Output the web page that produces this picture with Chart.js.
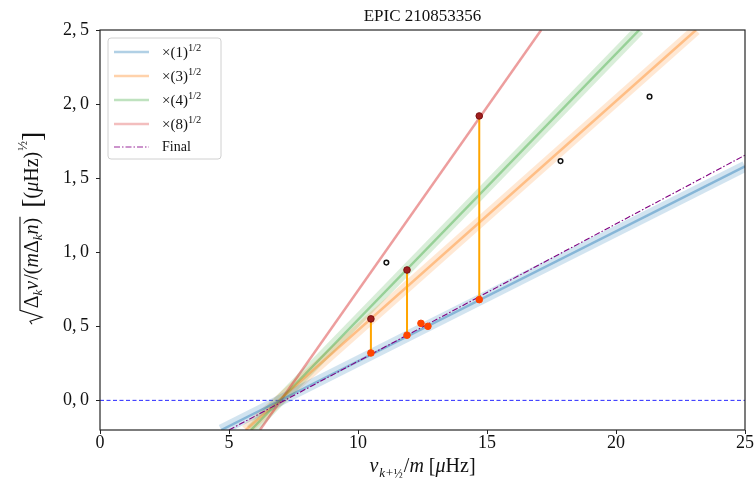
<!DOCTYPE html>
<html>
<head>
<meta charset="utf-8">
<script src="https://cdn.jsdelivr.net/npm/chart.js@4"></script>
<style>
  html, body { margin: 0; padding: 0; background: #fff; }
  #wrap { width: 755px; height: 491px; }
</style>
</head>
<body>
<div id="wrap"><canvas id="grafica"></canvas></div>
<script>
// ticks
const xTicks = [0, 5, 10, 15, 20, 25];
const yTicks = [0, 0.5, 1.0, 1.5, 2.0, 2.5];

// fitted lines (end points)
const lineaX1 = [4.7, 25];   const lineaY1 = [-0.2, 1.58];
const lineaX3 = [5.65, 23.1]; const lineaY3 = [-0.2, 2.5];
const lineaX4 = [5.85, 20.9]; const lineaY4 = [-0.2, 2.5];
const lineaX8 = [6.2, 17.1];  const lineaY8 = [-0.2, 2.5];
const finalX = [5.0, 25];     const finalY = [-0.2, 1.655];

// modes
const picosX = [10.5, 11.9, 14.7];
const picosArriba = [0.55, 0.88, 1.92];
const picosAbajo = [0.32, 0.44, 0.68];
const extraX = [12.44, 12.71];
const extraY = [0.52, 0.50];
const abiertosX = [11.1, 17.85, 21.3];
const abiertosY = [0.93, 1.615, 2.05];

const SERIF = '"Liberation Serif", "DejaVu Serif", serif';
const etiquetas = ['1', '3', '4', '8'];
const coloresLinea = ['rgba(31,119,180,0.42)', 'rgba(255,127,14,0.4)', 'rgba(44,160,44,0.38)', 'rgba(214,39,40,0.45)'];
const coloresBanda = ['rgba(31,119,180,0.2)', 'rgba(255,127,14,0.18)', 'rgba(44,160,44,0.18)', 'rgba(214,39,40,0.0)'];
const coloresLeyenda = ['rgba(31,119,180,0.35)', 'rgba(255,127,14,0.35)', 'rgba(44,160,44,0.3)', 'rgba(214,39,40,0.3)'];

function pts(xs, ys) { return xs.map((x, i) => ({ x: x, y: ys[i] })); }

const lineas = [pts(lineaX1, lineaY1), pts(lineaX3, lineaY3), pts(lineaX4, lineaY4), pts(lineaX8, lineaY8)];

const datasets = [];
// points on top
datasets.push({ data: pts(abiertosX, abiertosY), pointRadius: 2.3, pointBackgroundColor: '#fff', pointBorderColor: '#111', pointBorderWidth: 1.5, showLine: false, order: 0 });
datasets.push({ data: pts(picosX, picosArriba), pointRadius: 3.3, pointBackgroundColor: '#a01e1e', pointBorderColor: '#7a1010', pointBorderWidth: 1, showLine: false, order: 0 });
datasets.push({ data: pts(picosX, picosAbajo).concat(pts(extraX, extraY)), pointRadius: 3.3, pointBackgroundColor: '#ff4500', pointBorderColor: '#ff4500', showLine: false, order: 0 });
picosX.forEach((x, i) => {
    datasets.push({ data: [{ x: x, y: picosArriba[i] }, { x: x, y: picosAbajo[i] }], showLine: true, borderColor: '#ffa500', borderWidth: 2, pointRadius: 0, order: 1 });
});
datasets.push({ data: pts(finalX, finalY), showLine: true, borderColor: '#800080', borderWidth: 1.1, borderDash: [6, 2, 1.5, 2], pointRadius: 0, order: 2 });
lineas.forEach((d, i) => {
    datasets.push({ data: d, showLine: true, borderColor: coloresLinea[i], borderWidth: 2.5, pointRadius: 0, order: 3 });
    datasets.push({ data: d, showLine: true, borderColor: coloresBanda[i], borderWidth: 11, pointRadius: 0, order: 4 });
});
datasets.push({ data: [{ x: 0, y: 0 }, { x: 25, y: 0 }], showLine: true, borderColor: 'rgba(0,0,255,0.85)', borderWidth: 1, borderDash: [4, 2.5], pointRadius: 0, order: 5 });

// draw text made of pieces (sub/superscripts)
function anchoRuns(ctx, runs) {
    let w = 0;
    runs.forEach(r => {
        ctx.font = (r.italic ? 'italic ' : '') + r.size + 'px ' + SERIF;
        w += ctx.measureText(r.t).width + (r.gap || 0);
    });
    return w;
}
function dibujarRuns(ctx, runs, x, y) {
    let cx = x;
    runs.forEach(r => {
        ctx.font = (r.italic ? 'italic ' : '') + r.size + 'px ' + SERIF;
        ctx.fillText(r.t, cx, y + (r.dy || 0));
        cx += ctx.measureText(r.t).width + (r.gap || 0);
    });
    return cx;
}

const decoracion = {
    id: 'decoracion',
    afterDraw(chart) {
        const ctx = chart.ctx;
        const a = chart.chartArea;
        ctx.save();
        // frame
        ctx.strokeStyle = '#262626';
        ctx.lineWidth = 1.2;
        ctx.strokeRect(a.left, a.top, a.right - a.left, a.bottom - a.top);
        ctx.fillStyle = '#111';
        ctx.textBaseline = 'alphabetic';

        // title
        ctx.font = '17px ' + SERIF;
        ctx.textAlign = 'center';
        ctx.fillText('EPIC 210853356', (a.left + a.right) / 2, 21);
        ctx.textAlign = 'left';

        // x label
        const xr = [
            { t: 'v', size: 20, italic: true, gap: 1 },
            { t: 'k+', size: 13, italic: true, dy: 5 },
            { t: '½', size: 12, dy: 6, gap: 1 },
            { t: '/', size: 20 },
            { t: 'm', size: 20, italic: true },
            { t: ' [', size: 20 },
            { t: 'μ', size: 20, italic: true },
            { t: 'Hz]', size: 20 }
        ];
        dibujarRuns(ctx, xr, (a.left + a.right) / 2 - anchoRuns(ctx, xr) / 2, 472);

        // y label (rotated)
        ctx.save();
        ctx.translate(38, 228);
        ctx.rotate(-Math.PI / 2);
        const rad = [
            { t: 'Δ', size: 20 },
            { t: 'k', size: 13, italic: true, dy: 4 },
            { t: 'v', size: 20, italic: true, gap: 1 },
            { t: '/', size: 20 },
            { t: '(', size: 20 },
            { t: 'm', size: 20, italic: true },
            { t: 'Δ', size: 20 },
            { t: 'k', size: 13, italic: true, dy: 4 },
            { t: 'n', size: 20, italic: true },
            { t: ')', size: 20 }
        ];
        const resto = [
            { t: '  ', size: 20 },
            { t: '[', size: 28, dy: 3 },
            { t: '(', size: 20 },
            { t: 'μ', size: 20, italic: true },
            { t: 'Hz', size: 20 },
            { t: ')', size: 20, gap: 1 },
            { t: '½', size: 13, dy: -11 },
            { t: ']', size: 28, dy: 3 }
        ];
        const wr = anchoRuns(ctx, rad), wo = anchoRuns(ctx, resto);
        const total = 16 + wr + wo;
        const x0 = -total / 2;
        ctx.strokeStyle = '#111';
        ctx.lineWidth = 1.1;
        ctx.beginPath();
        ctx.moveTo(x0, -6);
        ctx.lineTo(x0 + 3, -8);
        ctx.lineTo(x0 + 7, 4);
        ctx.lineTo(x0 + 14, -18);
        ctx.lineTo(x0 + 16 + wr + 1, -18);
        ctx.stroke();
        dibujarRuns(ctx, rad, x0 + 16, 0);
        dibujarRuns(ctx, resto, x0 + 16 + wr, 0);
        ctx.restore();

        // legend
        const lx = 108, ly = 38, lw = 113, lh = 121;
        ctx.fillStyle = 'rgba(255,255,255,0.8)';
        ctx.strokeStyle = '#d0d0d0';
        ctx.lineWidth = 1;
        ctx.beginPath();
        ctx.roundRect(lx, ly, lw, lh, 3);
        ctx.fill();
        ctx.stroke();
        const filas = [52, 76, 100, 124];
        etiquetas.forEach((e, i) => {
            ctx.strokeStyle = coloresLeyenda[i];
            ctx.lineWidth = 2.5;
            ctx.beginPath();
            ctx.moveTo(114, filas[i]);
            ctx.lineTo(149, filas[i]);
            ctx.stroke();
            ctx.fillStyle = '#111';
            dibujarRuns(ctx, [
                { t: '×(' + e + ')', size: 15 },
                { t: '1/2', size: 10.5, dy: -6 }
            ], 162, filas[i] + 5);
        });
        ctx.strokeStyle = '#9a2a9a';
        ctx.lineWidth = 1.1;
        ctx.setLineDash([6, 2, 1.5, 2]);
        ctx.beginPath();
        ctx.moveTo(114, 147);
        ctx.lineTo(149, 147);
        ctx.stroke();
        ctx.setLineDash([]);
        ctx.fillStyle = '#111';
        ctx.font = '14px ' + SERIF;
        ctx.fillText('Final', 162, 151);
        ctx.restore();
    }
};

function coma(v) { return v.toFixed(1).replace('.', ',\u2009'); }

new Chart(document.getElementById('grafica').getContext('2d'), {
    type: 'scatter',
    data: { datasets: datasets },
    options: {
        responsive: true,
        maintainAspectRatio: false,
        animation: false,
        layout: { padding: { top: 30, right: 10, left: 0, bottom: 0 } },
        plugins: { legend: { display: false }, tooltip: { enabled: false }, title: { display: false } },
        scales: {
            x: {
                type: 'linear', min: 0, max: 25,
                afterBuildTicks: s => { s.ticks = xTicks.map(v => ({ value: v })); },
                afterFit: s => { s.height = 61; },
                grid: { drawOnChartArea: false, tickLength: 4, tickColor: '#222' },
                border: { display: false },
                ticks: { color: '#111', font: { family: SERIF, size: 18 }, padding: -2, callback: v => String(v) }
            },
            y: {
                type: 'linear', min: -0.2, max: 2.5,
                afterBuildTicks: s => { s.ticks = yTicks.map(v => ({ value: v })); },
                afterFit: s => { s.width = 100; },
                grid: { drawOnChartArea: false, tickLength: 4, tickColor: '#222' },
                border: { display: false },
                ticks: { color: '#111', font: { family: SERIF, size: 18 }, padding: 7, callback: v => coma(v) }
            }
        }
    },
    plugins: [decoracion]
});
</script>
</body>
</html>
